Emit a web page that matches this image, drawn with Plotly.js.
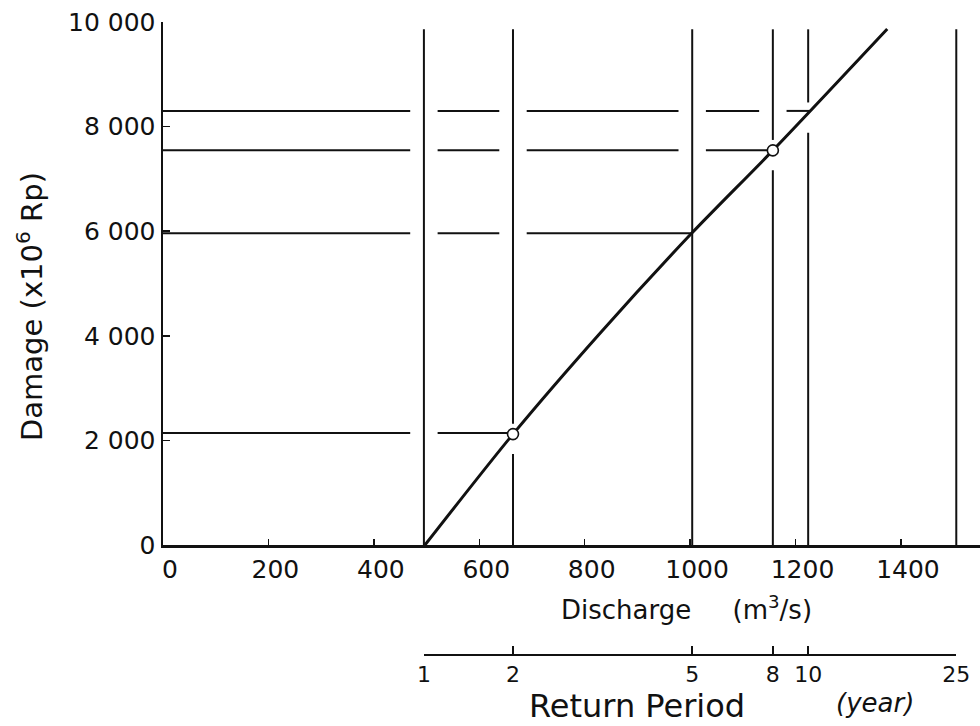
<!DOCTYPE html>
<html>
<head>
<meta charset="utf-8">
<script src="https://cdn.plot.ly/plotly-3.0.1.min.js"></script>
<style>
html,body{margin:0;padding:0;background:#fff;}
#chart{width:980px;height:726px;}
</style>
</head>
<body>
<div id="chart"></div>
<script>
// ---------- data ----------
const curveQ = [497, 664, 830, 1002, 1157, 1374];          // discharge (m3/s)
const curveD = [0, 2120, 4060, 5950, 7545, 9866];          // damage (x10^6 Rp)
const markQ = [664, 1157];
const markD = [2120, 7545];
const returnPeriods = [1, 2, 5, 8, 10, 25];                 // years
const returnQ = [495, 664, 1004, 1157, 1224, 1505];         // discharge of each return period
const damageLevels = [2140, 5960, 7550, 8300];              // horizontal reading lines
const dischargeTicks = [0, 200, 400, 600, 800, 1000, 1200, 1400];
const dischargeTickText = ["0", "200", "400", "600", "800", "1000", "1200", "1400"];
const damageTicks = [0, 2000, 4000, 6000, 8000, 10000];
const damageTickText = ["0", "2 000", "4 000", "6 000", "8 000", "10 000"];
const gappedPeriods = [2, 8, 10];                           // vertical lines broken where the curve passes
const verticalTop = 9860;

// ---------- layout constants ----------
const W = 980, H = 726;
const M = {l: 163, r: 0, t: 22, b: 71};
const plotW = W - M.l - M.r, plotH = H - M.t - M.b;
const axisPx = 545;                                  // pixel row of the discharge axis
const yDomBottom = (H - M.b - axisPx) / plotH;
const xMax = 1550;
const hGap = 26;       // half gap (data units of Q) in horizontal lines at vertical crossings
const vGapBelow = 380, vGapAbove = 200;  // gaps (damage units) in vertical lines at the curve
const ink = '#111';
const FONT = 'DejaVu Sans, Liberation Sans, sans-serif';

function interp(xs, ys, x) {
  for (let i = 0; i < xs.length - 1; i++) {
    if (x >= xs[i] && x <= xs[i + 1]) {
      return ys[i] + (ys[i + 1] - ys[i]) * (x - xs[i]) / (xs[i + 1] - xs[i]);
    }
  }
  return x < xs[0] ? ys[0] : ys[ys.length - 1];
}

// horizontal reading lines, from the damage axis to the curve, broken at the verticals
const hx = [], hy = [];
damageLevels.forEach(h => {
  const qEnd = interp(curveD, curveQ, h);
  let cur = 0;
  returnQ.forEach(v => {
    if (v < qEnd - hGap && v > cur) {
      hx.push(cur, v - hGap, null); hy.push(h, h, null);
      cur = v + hGap;
    }
  });
  hx.push(cur, qEnd, null); hy.push(h, h, null);
});

// vertical return-period lines
const vx = [], vy = [];
returnPeriods.forEach((p, i) => {
  const q = returnQ[i];
  if (gappedPeriods.includes(p)) {
    const c = interp(curveQ, curveD, q);
    vx.push(q, q, null, q, q, null);
    vy.push(0, c - vGapBelow, null, c + vGapAbove, verticalTop, null);
  } else {
    vx.push(q, q, null);
    vy.push(0, verticalTop, null);
  }
});

const px2x = px => (px - M.l) / plotW;
const px2y = py => (H - M.b - py) / plotH;

const traces = [
  {x: returnQ, y: returnQ.map(() => null), xaxis: 'x2', yaxis: 'y', type: 'scatter', mode: 'markers', hoverinfo: 'skip', showlegend: false},
  {x: hx, y: hy, type: 'scatter', mode: 'lines', line: {color: ink, width: 2}, hoverinfo: 'skip', showlegend: false},
  {x: vx, y: vy, type: 'scatter', mode: 'lines', line: {color: ink, width: 2}, hoverinfo: 'skip', showlegend: false},
  {x: curveQ, y: curveD, type: 'scatter', mode: 'lines', line: {color: ink, width: 3, shape: 'spline', smoothing: 0.8}, name: 'Damage curve', showlegend: false},
  {x: markQ, y: markD, type: 'scatter', mode: 'markers', marker: {size: 11, color: '#fff', line: {color: ink, width: 1.6}}, showlegend: false}
];

const layout = {
  width: W, height: H,
  margin: M,
  paper_bgcolor: '#fff', plot_bgcolor: 'rgba(0,0,0,0)',
  showlegend: false,
  font: {family: FONT, color: ink},
  xaxis: {
    range: [0, xMax], domain: [0, 1], anchor: 'y',
    showline: true, linecolor: ink, linewidth: 2.5,
    showgrid: false, zeroline: false,
    ticks: 'inside', ticklen: 6, tickwidth: 1.5, tickcolor: ink,
    tickvals: dischargeTicks, ticktext: dischargeTickText,
    ticklabelshift: 7,
    tickfont: {family: FONT, size: 25, color: ink}
  },
  xaxis2: {
    range: [returnQ[0], returnQ[returnQ.length - 1]],
    domain: [returnQ[0] / xMax, returnQ[returnQ.length - 1] / xMax],
    anchor: 'free', position: 0,
    showline: true, linecolor: ink, linewidth: 2,
    showgrid: false, zeroline: false,
    ticks: 'inside', ticklen: 8, tickwidth: 1.5, tickcolor: ink,
    tickvals: returnQ, ticktext: returnPeriods.map(String),
    tickfont: {family: FONT, size: 22, color: ink}
  },
  yaxis: {
    range: [0, 10000], domain: [yDomBottom, 1], anchor: 'x',
    showline: true, linecolor: ink, linewidth: 2.5,
    showgrid: false, zeroline: false,
    ticks: 'inside', ticklen: 7, tickwidth: 1.5, tickcolor: ink,
    tickvals: damageTicks, ticktext: damageTickText,
    ticklabelstandoff: 0,
    tickfont: {family: FONT, size: 25, color: ink}
  },
  annotations: [
    {text: 'Discharge\u00a0\u00a0\u00a0\u00a0\u00a0(m<sup>3</sup>/s)', xref: 'paper', yref: 'paper',
     x: px2x(686), y: px2y(608), xanchor: 'center', yanchor: 'middle', showarrow: false,
     font: {family: FONT, size: 26, color: ink}},
    {text: 'Return Period', xref: 'paper', yref: 'paper',
     x: px2x(637), y: px2y(706), xanchor: 'center', yanchor: 'middle', showarrow: false,
     font: {family: FONT, size: 32, color: ink}},
    {text: '(year)', xref: 'paper', yref: 'paper',
     x: px2x(875), y: px2y(703), xanchor: 'center', yanchor: 'middle', showarrow: false,
     font: {family: FONT, size: 26, color: ink, style: 'italic'}},
    {text: 'Damage (x10<sup>6</sup> Rp)', xref: 'paper', yref: 'paper', textangle: -90,
     x: px2x(30), y: px2y(307), xanchor: 'center', yanchor: 'middle', showarrow: false,
     font: {family: FONT, size: 29, color: ink}}
  ]
};

Plotly.newPlot('chart', traces, layout, {displayModeBar: false, staticPlot: true});
</script>
</body>
</html>
